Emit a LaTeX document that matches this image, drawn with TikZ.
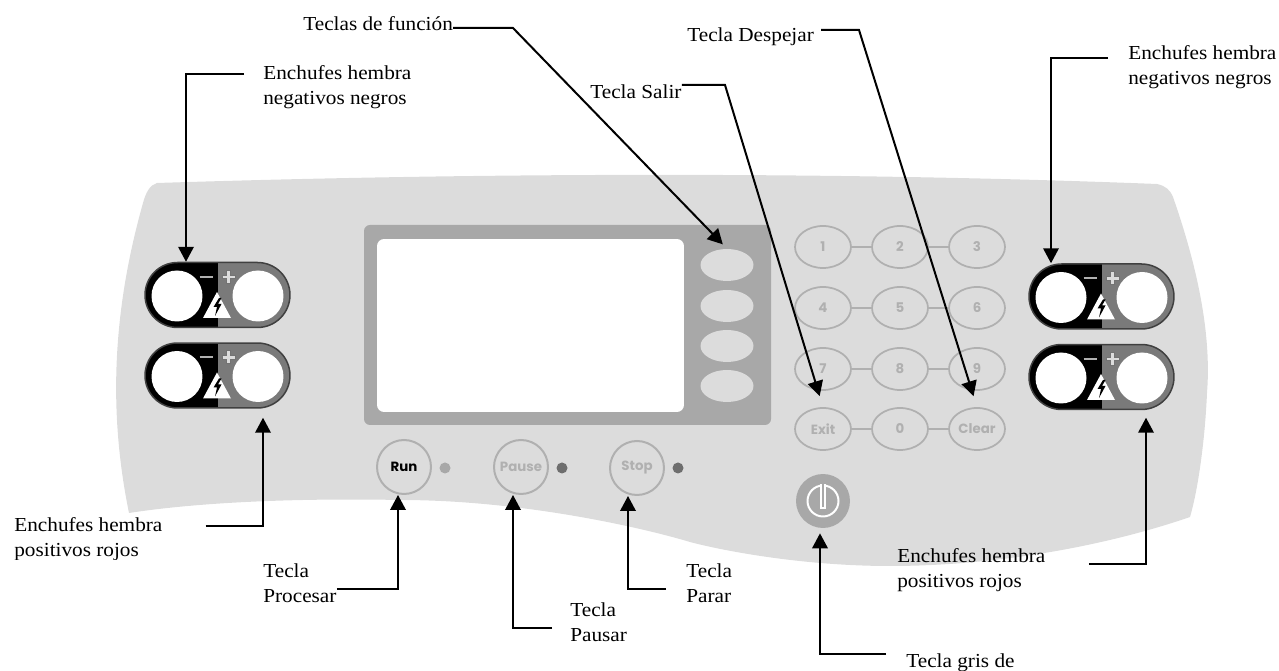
\documentclass[tikz,border=0pt]{standalone}
\usepackage{fontspec}
\setmainfont[FakeStretch=1.07]{Liberation Serif}
\newfontfamily\keyfont{Poppins}
\usepackage{xcolor}
\usetikzlibrary{positioning, calc, arrows.meta, shapes.geometric}
\definecolor{panelgray}{HTML}{DCDCDC}
\definecolor{bezelgray}{HTML}{A8A8A8}
\definecolor{keygray}{HTML}{B0B0B0}
\definecolor{sockgray}{HTML}{7A7A7A}
\definecolor{ledgray}{HTML}{6E6E6E}
\tikzset{
  callout/.style={anchor=north west, align=left, inner sep=0pt, font=\fontsize{11.3}{14.4}\selectfont},
  lead/.style={->, black, line width=0.04cm},
  socket/.style={rectangle, rounded corners=0.65cm, minimum width=2.9cm, minimum height=1.3cm, inner sep=0pt, fill=black, draw=black!75, line width=0.03cm,
    path picture={\fill[sockgray, sharp corners] (path picture bounding box.north) rectangle (path picture bounding box.south east);}},
  jack/.style={circle, fill=white, minimum size=1.02cm, inner sep=0pt},
  softkey/.style={ellipse, fill=panelgray, minimum width=1.06cm, minimum height=0.64cm, inner sep=0pt},
  numkey/.style={ellipse, draw=keygray, line width=0.035cm, minimum width=1.12cm, minimum height=0.84cm, inner sep=0pt, text=keygray, font=\keyfont\bfseries\fontsize{7.6}{8}\selectfont},
  runkey/.style={circle, draw=keygray, line width=0.04cm, minimum size=1.08cm, inner sep=0pt, text=keygray, font=\keyfont\bfseries\fontsize{7.6}{8}\selectfont},
  keylink/.style={keygray, line width=0.035cm},
  led/.style={circle, minimum size=0.22cm, inner sep=0pt, fill=#1}
}
\begin{document}
\begin{tikzpicture}[x=0.02cm, y=-0.02cm, >={Triangle[length=0.3cm,width=0.31cm]}]
\useasboundingbox (0,0) rectangle (1279,671);
% Panel
\fill[panelgray] (157,183) .. controls (500,172) and (850,172) .. (1157,184)
  .. controls (1166,186) and (1170,190) .. (1173,197)
  .. controls (1195,260) and (1212,330) .. (1207,393)
  .. controls (1205,440) and (1198,490) .. (1190,517)
  .. controls (1100,548) and (990,566) .. (890,566)
  .. controls (800,566) and (720,550) .. (690,542)
  .. controls (640,527) and (520,500) .. (400,500)
  .. controls (300,498) and (200,502) .. (129,513)
  .. controls (110,420) and (110,320) .. (143,203)
  .. controls (146,192) and (150,185) .. (157,183) -- cycle;

% Sockets
\foreach \nm/\cx/\cy in {lu/217.5/295, ll/217.5/375.5, ru/1101.5/296.5, rl/1101.5/377} {
  \node[socket] (\nm) at (\cx,\cy) {};
  \begin{scope}[shift={(\cx,\cy)}]
    \node[jack] (\nm neg) at (-40.5,1) {};
    \node[jack] (\nm pos) at (40.5,1) {};
    \draw[keygray, line width=0.04cm] (-18,-18) -- (-5,-18);
    \draw[black!55, line width=0.09cm] (4,-18) -- (18,-18) (11,-25) -- (11,-11);
    \draw[panelgray, line width=0.05cm] (5,-18) -- (17,-18) (11,-24) -- (11,-12);
    \fill[white] (-0.5,-3) -- (13.5,23) -- (-14.5,23) -- cycle;
    \fill[black] (1.5,3) -- (-4,12) -- (-0.5,12) -- (-2.5,21) -- (4,9) -- (0.5,9) -- (4,3) -- cycle;
  \end{scope}
}

% Screen
\fill[bezelgray, rounded corners=0.12cm] (364,225) rectangle (771,425);
\node[rectangle, fill=white, rounded corners=0.14cm, minimum width=6.14cm, minimum height=3.46cm, inner sep=0pt] (screen) at (530.5,325.5) {};
\node[softkey] (soft1) at (727,265) {};
\node[softkey] (soft2) at (727,306) {};
\node[softkey] (soft3) at (727,346) {};
\node[softkey] (soft4) at (727,386) {};

% Keypad
\foreach \nm/\cx/\cy/\txt in {k1/823/247/1, k2/900/247/2, k3/977/247/3, k4/823/308/4, k5/900/308/5, k6/977/308/6, k7/823/369/7, k8/900/369/8, k9/977/369/9, kexit/823/429/Exit, k0/900/429/0, kclear/977/429/Clear}
  \node[numkey] (\nm) at (\cx,\cy) {\txt};
\foreach \a/\b in {k1/k2, k2/k3, k4/k5, k5/k6, k7/k8, k8/k9, kexit/k0, k0/kclear}
  \draw[keylink] (\a) -- (\b);

% Run, pause and stop
\node[runkey, text=black] (run) at (404,467) {Run};
\node[runkey] (pause) at (521,467) {Pause};
\node[runkey] (stop) at (637,468) {Stop};
\node[led=bezelgray] (runled) at (445,468) {};
\node[led=ledgray] (pauseled) at (562,468) {};
\node[led=ledgray] (stopled) at (678,468) {};

% Power key
\node[circle, fill=bezelgray, minimum size=1.08cm, inner sep=0pt] (power) at (823,501) {};
\node[circle, draw=white, line width=0.04cm, minimum size=0.62cm, inner sep=0pt] (powerring) at (823,501) {};
\draw[white, line width=0.12cm] (powerring.north) -- ([yshift=-0.16cm]powerring.center);
\draw[bezelgray, line width=0.05cm] (powerring.north) -- ([yshift=-0.12cm]powerring.center);

% Labels
\node[callout] (tfuncion) at (303,16) {Teclas de función};
\node[callout] (tdespejar) at (687,27) {Tecla Despejar};
\node[callout] (tsalir) at (590,84) {Tecla Salir};
\node[callout] (tnegl) at (263,65) {Enchufes hembra\\negativos negros};
\node[callout] (tnegr) at (1128,45) {Enchufes hembra\\negativos negros};
\begin{scope}
  \clip (10,515) rectangle (170,560);
  \node[callout] (tposl) at (14,517) {Enchufes hembra\\positivos rojos};
\end{scope}
\node[callout] (tposr) at (897,548) {Enchufes hembra\\positivos rojos};
\begin{scope}
  \clip (255,555) rectangle (345,603);
  \node[callout] (tprocesar) at (263,563) {Tecla\\Procesar};
\end{scope}
\node[callout] (tpausar) at (570,602) {Tecla\\Pausar};
\node[callout] (tparar) at (686,563) {Tecla\\Parar};
\node[callout] (tgris) at (906,653) {Tecla gris de};

% Bends
\coordinate (bfuncion) at (513,28);
\coordinate (bdespejar) at (859,30);
\coordinate (bsalir) at (725,85);
\coordinate (bnegl) at (186,74);
\coordinate (bnegr) at (1051,58);
\coordinate (bposl) at (263,526);
\coordinate (bposr) at (1146,564);
\coordinate (bprocesar) at (398,589);
\coordinate (bpausar) at (513,628);
\coordinate (bparar) at (628,589);
\coordinate (bgris) at (820,654);

% Connections
\draw[lead, shorten >=0.12cm] (tfuncion.east |- bfuncion) -- (bfuncion) -- (soft1.north);
\draw[lead, shorten <=0.14cm, shorten >=0.23cm] (tdespejar.east |- bdespejar) -- (bdespejar) -- (kclear.north);
\draw[lead, shorten >=0.23cm] (tsalir.east |- bsalir) -- (bsalir) -- (kexit.north);
\draw[lead, shorten <=0.38cm] (tnegl.west |- bnegl) -- (bnegl) -- (bnegl |- lu.north);
\draw[lead, shorten <=0.4cm] (tnegr.west |- bnegr) -- (bnegr) -- (bnegr |- ru.north);
\draw[lead, shorten <=0.86cm, shorten >=0.18cm] (tposl.east |- bposl) -- (bposl) -- (bposl |- ll.south);
\draw[lead, shorten <=0.86cm, shorten >=0.15cm] (tposr.east |- bposr) -- (bposr) -- (bposr |- rl.south);
\draw[lead] (tprocesar.east |- bprocesar) -- (bprocesar) -- (bprocesar |- run.south);
\draw[lead, shorten <=0.36cm] (tpausar.west |- bpausar) -- (bpausar) -- (bpausar |- pause.south);
\draw[lead, shorten <=0.4cm] (tparar.west |- bparar) -- (bparar) -- (bparar |- stop.south);
\draw[lead, shorten <=0.4cm, shorten >=0.1cm] (tgris.west |- bgris) -- (bgris) -- (bgris |- power.south);
\end{tikzpicture}
\end{document}
